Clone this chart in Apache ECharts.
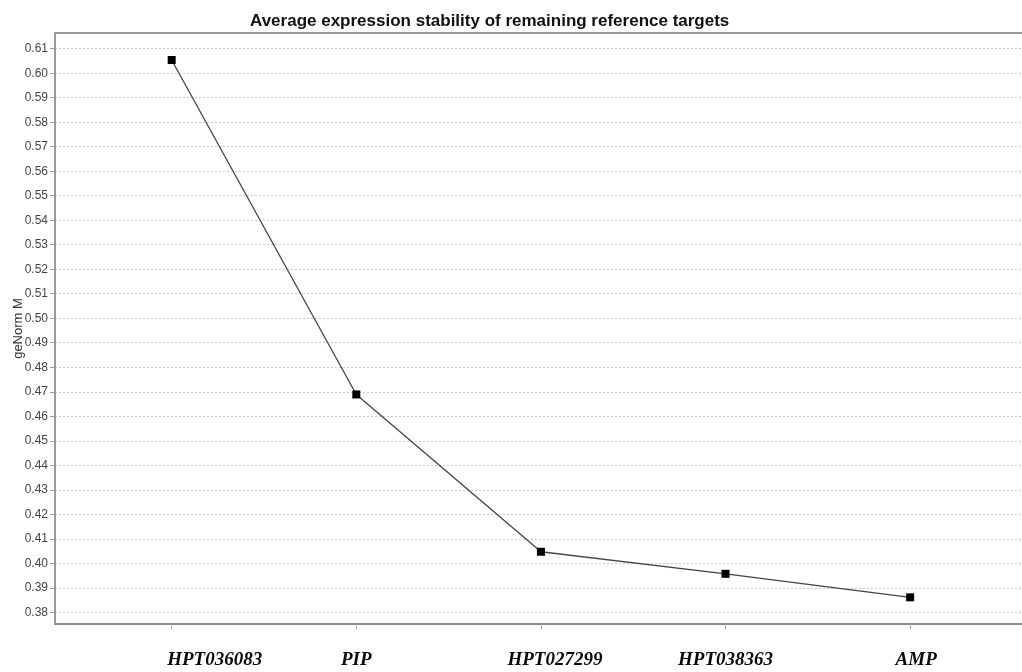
<!DOCTYPE html>
<html>
<head>
<meta charset="utf-8">
<script src="https://cdn.jsdelivr.net/npm/echarts@6/dist/echarts.min.js"></script>
<style>
	html, body { margin: 0; padding: 0; background: #fff; }
	#chart { width: 1022px; height: 672px; }
</style>
</head>
<body>
<div id="chart"></div>
<script>
	// 数据
	const targets = ['HPT036083', 'PIP', 'HPT027299', 'HPT038363', 'AMP'];
	const genormM = [0.6054, 0.4689, 0.4047, 0.3957, 0.3861];
	const yTicks = [0.38, 0.39, 0.40, 0.41, 0.42, 0.43, 0.44, 0.45, 0.46, 0.47, 0.48, 0.49,
		0.50, 0.51, 0.52, 0.53, 0.54, 0.55, 0.56, 0.57, 0.58, 0.59, 0.60, 0.61];
	const xTicks = targets.map((t, i) => i);

	const chart = echarts.init(document.getElementById('chart'));
	const option = {
		animation: false,
		title: {
			text: 'Average expression stability of remaining reference targets',
			left: 245,
			top: 8,
			textStyle: {
				fontFamily: 'Liberation Sans',
				fontSize: 17,
				fontWeight: 'bold',
				color: '#111'
			}
		},
		grid: {
			left: 55,
			right: -3,
			top: 33,
			bottom: 48,
			outerBoundsMode: 'none',
			containLabel: false,
			show: true,
			borderColor: '#9a9a9a',
			borderWidth: 2
		},
		xAxis: {
			type: 'value',
			min: -0.632,
			max: 4.622,
			axisLine: { show: true, onZero: false, lineStyle: { color: '#8c8c8c', width: 2 } },
			axisTick: {
				show: true,
				customValues: xTicks,
				length: 5,
				lineStyle: { color: '#aaa' }
			},
			splitLine: { show: false },
			axisLabel: {
				customValues: xTicks,
				margin: 27,
				fontFamily: 'Liberation Serif',
				fontStyle: 'italic',
				fontWeight: 'bold',
				fontSize: 19,
				color: '#0a0a0a',
				formatter: (v) => {
					const i = Math.round(v);
					return targets[i] ? '{l' + i + '|' + targets[i] + '}' : '';
				},
				rich: {
					l0: { padding: [0, 0, 0, 86] },
					l1: {},
					l2: { padding: [0, 0, 0, 28] },
					l3: {},
					l4: { padding: [0, 0, 0, 12] }
				}
			}
		},
		yAxis: {
			type: 'value',
			min: 0.37522,
			max: 0.61641,
			name: 'geNorm M',
			nameLocation: 'middle',
			nameGap: 30,
			nameMoveOverlap: false,
			nameTextStyle: { fontFamily: 'Liberation Sans', fontSize: 13, color: '#333' },
			axisLine: { show: true, onZero: false, lineStyle: { color: '#9a9a9a', width: 2 } },
			axisTick: {
				show: true,
				customValues: yTicks,
				length: 5,
				lineStyle: { color: '#999' }
			},
			axisLabel: {
				customValues: yTicks,
				margin: 7,
				fontFamily: 'Liberation Sans',
				fontSize: 12,
				color: '#444',
				formatter: (v) => v.toFixed(2)
			},
			splitLine: {
				show: true,
				lineStyle: { color: '#c8c8c8', type: [2, 2], width: 1 }
			}
		},
		series: [{
			type: 'line',
			data: genormM.map((v, i) => [i, v]),
			symbol: 'rect',
			symbolSize: 8,
			itemStyle: { color: '#000' },
			lineStyle: { color: '#444', width: 1.3 }
		}]
	};
	chart.setOption(option);
</script>
</body>
</html>
